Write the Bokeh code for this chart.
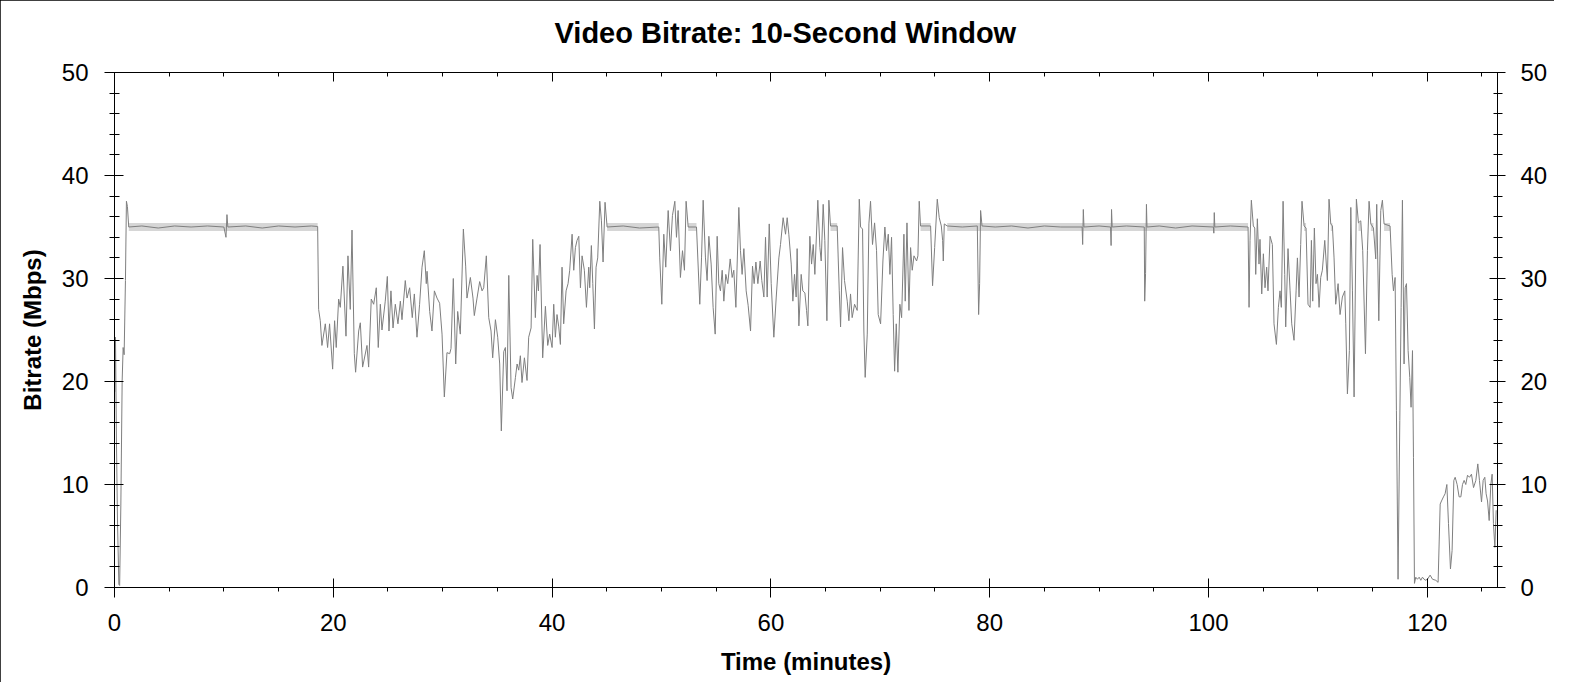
from bokeh.plotting import figure
from bokeh.models import LinearAxis, SingleIntervalTicker, Range1d, CustomJSTickFormatter
from bokeh.embed import file_html
from bokeh.resources import INLINE

# ---- data ----
time_min = [
    0.03, 0.09, 0.18, 0.28, 0.40, 0.47, 0.58, 0.70, 0.79, 0.88, 1.00, 1.09, 1.18, 1.30,
    2.5, 4.0, 5.5, 7.0, 8.5, 10.0, 10.19, 10.28, 10.36, 12.0, 13.5, 15.0, 16.5, 18.0, 18.57,
    18.66, 18.81, 18.96, 19.27, 19.48, 19.66, 19.94, 20.12, 20.27, 20.49, 20.64, 20.88,
    21.16, 21.34, 21.55, 21.71, 21.92, 22.04, 22.32, 22.47, 22.68, 23.08, 23.23, 23.47,
    23.69, 23.93, 24.11, 24.30, 24.45, 24.75, 24.94, 25.09, 25.27, 25.46, 25.67, 25.91,
    26.13, 26.28, 26.58, 26.74, 26.98, 27.22, 27.41, 27.65, 27.89, 28.11, 28.32, 28.50,
    28.57, 28.81, 29.02, 29.24, 29.48, 29.72, 29.94, 30.15, 30.39, 30.64, 30.76, 30.97,
    31.19, 31.37, 31.61, 31.89, 32.10, 32.22, 32.53, 32.77, 32.89, 33.14, 33.38, 33.60,
    33.75, 33.99, 34.21, 34.42, 34.57, 34.82, 35.03, 35.21, 35.36, 35.58, 35.73, 35.88,
    36.04, 36.25, 36.40, 36.65, 36.80, 36.95, 37.10, 37.25, 37.47, 37.71, 37.86, 38.08,
    38.23, 38.47, 38.63, 38.75, 38.90, 39.14, 39.39, 39.60, 39.78,
    40.00, 40.15, 40.30, 40.45, 40.61, 40.76, 40.91, 41.06, 41.28, 41.46, 41.61, 41.83,
    41.98, 42.13, 42.28, 42.44, 42.59, 42.74, 42.95, 43.14, 43.35, 43.44, 43.59, 43.72,
    43.87, 44.02, 44.17, 44.36, 44.51, 44.66, 44.84, 45.03, 46.5, 48.0, 49.75,
    49.84, 50.03, 50.21, 50.39, 50.61, 50.82, 51.00, 51.22, 51.37, 51.52, 51.73, 51.92,
    52.10, 52.25, 52.44, 53.20, 53.50, 53.66, 53.81, 54.02, 54.17, 54.33, 54.54, 54.72,
    54.91, 55.09, 55.24, 55.39, 55.55, 55.70, 55.88, 56.06, 56.28, 56.46, 56.61, 56.80,
    57.07, 57.22, 57.37, 57.53, 57.74, 57.92, 58.14, 58.32, 58.47, 58.63, 58.81, 59.02,
    59.17, 59.36, 59.51, 59.66, 59.85, 60.03, 60.27, 60.49, 60.73, 60.88,
    61.12, 61.34, 61.49, 61.64, 61.86, 62.01, 62.16, 62.31, 62.40, 62.56, 62.77, 62.92,
    63.11, 63.26, 63.38, 63.56, 63.72, 63.87, 64.02, 64.29, 64.48, 64.60, 64.78, 64.93,
    65.12, 65.30, 65.45, 66.06, 66.25, 66.37, 66.55, 66.73, 66.98, 67.13, 67.28, 67.43,
    67.65, 67.89, 68.08, 68.20, 68.38, 68.50, 68.62, 68.81, 68.96, 69.11, 69.29, 69.48,
    69.66, 69.81, 70.03, 70.24, 70.42, 70.57, 70.73, 70.88, 71.03, 71.18, 71.31, 71.46,
    71.61, 71.79, 71.95, 72.16, 72.28, 72.44, 72.62, 72.77, 72.92, 73.08, 73.32, 73.44,
    73.56, 73.68, 74.60, 74.78, 74.97, 75.21, 75.39, 75.58, 75.70, 75.76, 75.85, 76.12,
    77.5, 78.87, 78.99, 79.08, 79.17, 79.30,
    80.5, 82.0, 83.5, 85.0, 86.5, 88.45, 88.50, 88.56, 88.62, 90.0, 91.05, 91.10, 91.14,
    91.20, 92.5, 94.13, 94.17, 94.25, 94.33, 94.38, 95.5, 97.0, 98.5, 100.45, 100.49,
    100.53, 100.58, 102.0, 103.62,
    103.71, 103.80, 103.92, 104.10, 104.23, 104.32, 104.47, 104.62, 104.71, 104.87,
    105.02, 105.17, 105.32, 105.44, 105.63, 105.84, 105.99, 106.21, 106.39, 106.54,
    106.66, 106.82, 106.97, 107.06, 107.27, 107.46, 107.61, 107.82, 108.01, 108.13,
    108.28, 108.43, 108.55, 108.74, 108.92, 109.10, 109.29, 109.41, 109.53, 109.68,
    109.83, 109.96, 110.11, 110.26, 110.41, 110.63, 110.87, 111.02, 111.18, 111.33,
    111.48, 111.63, 111.85, 112.03, 112.24, 112.46, 112.55, 112.70, 112.88, 113.01,
    113.16, 113.31, 113.52, 113.71, 113.92, 114.10, 114.35, 114.53, 114.68, 114.84,
    115.08, 115.29, 115.38, 115.57, 115.75, 115.90, 116.05, 116.60, 116.79, 116.91,
    117.06, 117.18, 117.33, 117.49, 117.61, 117.73, 117.88, 117.98, 118.10, 118.25,
    118.40, 118.52, 118.65, 118.74, 118.83, 118.95, 119.10, 119.26, 119.41, 119.56,
    119.80, 120.02, 120.26, 120.48, 120.78, 120.99, 121.18, 121.30, 121.48, 121.63,
    121.79, 121.94, 122.12, 122.27, 122.43, 122.55, 122.73, 122.91, 123.07, 123.22,
    123.37, 123.52, 123.68, 123.86, 124.04, 124.23, 124.44, 124.62, 124.77, 124.96,
    125.11, 125.26, 125.38, 125.51, 125.66, 125.81, 125.93, 126.05, 126.18, 126.30,
]

bitrate_mbps = [
    19.0, 24.3, 14.0, 6.0, 0.3, 0.2, 8.0, 20.1, 23.3, 22.6, 29.8, 37.5, 37.0, 35.0,
    35.1, 34.9, 35.1, 35.0, 35.1, 35.0, 34.0, 36.2, 35.0, 35.1, 34.9, 35.1, 35.0, 35.1, 35.05,
    27.0, 25.9, 23.5, 25.6, 23.3, 25.6, 21.2, 25.9, 23.3, 28.0, 27.2, 31.2,
    24.4, 32.2, 27.0, 34.7, 22.7, 20.9, 24.9, 25.7, 21.4, 23.5, 21.4, 28.0,
    27.5, 29.1, 23.3, 27.5, 25.0, 27.8, 30.2, 24.9, 28.8, 25.2, 27.5, 25.6,
    27.8, 26.0, 29.8, 28.1, 29.1, 26.2, 28.5, 24.3, 27.5, 31.1, 32.7, 29.5,
    30.7, 26.8, 24.9, 28.8, 28.1, 27.6, 24.6, 18.5, 22.8, 22.7, 23.2, 30.0,
    21.7, 26.8, 24.6, 34.8, 31.2, 28.1, 30.1, 28.1, 26.4, 28.1, 29.7, 28.8,
    29.1, 32.2, 26.2, 24.9, 22.3, 26.0, 24.3, 21.7, 15.2, 22.9, 23.3, 19.1,
    30.3, 19.4, 18.3, 20.4, 21.7, 21.1, 22.5, 19.9, 22.3, 20.1, 24.3, 25.2,
    33.8, 26.2, 30.3, 28.8, 33.3, 22.3, 27.3, 23.5, 24.6,
    23.3, 27.5, 24.3, 26.5, 25.3, 23.6, 31.1, 25.6, 28.8, 29.5, 30.8, 34.3,
    30.8, 33.0, 33.7, 34.1, 29.1, 32.2, 30.8, 27.2, 31.1, 29.1, 33.2, 29.5,
    25.1, 31.1, 32.0, 37.5, 35.6, 31.6, 37.4, 35.0, 35.1, 34.9, 35.0,
    32.0, 27.5, 34.3, 31.1, 36.6, 32.7, 36.1, 37.5, 34.0, 36.6, 30.1, 32.7,
    30.8, 37.5, 35.0, 35.0, 27.5, 32.0, 37.6, 32.0, 29.8, 34.1, 31.4, 27.2,
    24.6, 34.1, 29.5, 28.8, 30.8, 27.8, 30.4, 29.5, 31.9, 30.1, 30.8, 27.2,
    36.9, 32.7, 30.4, 32.9, 28.8, 27.4, 24.9, 31.2, 29.5, 31.6, 29.5, 31.7,
    29.8, 28.2, 34.0, 28.2, 35.3, 29.5, 24.3, 28.2, 32.0, 33.3,
    35.9, 34.3, 35.9, 34.3, 31.4, 27.8, 30.4, 28.2, 32.9, 25.4, 30.4, 28.8,
    28.6, 26.9, 25.4, 34.1, 31.4, 33.3, 30.4, 37.6, 33.0, 31.7, 37.2, 33.7,
    25.9, 37.6, 35.1, 35.1, 28.8, 25.3, 33.0, 29.8, 27.8, 25.9, 28.5, 26.2,
    27.5, 26.9, 37.7, 35.0, 34.8, 24.9, 20.4, 24.6, 35.3, 37.5, 33.3, 35.4,
    32.7, 26.5, 25.6, 31.7, 35.0, 32.7, 34.3, 30.4, 34.0, 26.5, 21.0, 25.6,
    20.9, 27.5, 26.2, 34.3, 27.8, 35.4, 26.9, 33.0, 30.8, 32.2, 31.7, 32.2,
    37.5, 35.1, 35.1, 29.3, 33.0, 37.7, 35.9, 35.1, 33.7, 31.7, 35.3, 35.1,
    35.0, 35.1, 26.5, 29.5, 36.6, 35.1,
    35.0, 35.1, 34.9, 35.1, 35.0, 35.0, 33.3, 36.7, 35.0, 35.1, 35.0, 33.2, 36.7,
    35.0, 35.1, 35.0, 27.8, 30.5, 37.2, 35.0, 35.1, 34.9, 35.1, 35.0, 34.4,
    36.4, 35.0, 35.1, 35.0,
    27.2, 33.7, 37.6, 35.1, 34.9, 30.4, 35.8, 31.4, 33.8, 28.5,
    32.4, 29.1, 31.1, 28.8, 34.1, 33.3, 25.6, 23.6, 27.2, 28.8,
    27.2, 37.5, 30.4, 25.3, 32.9, 28.8, 25.6, 24.0, 28.8, 32.0,
    28.2, 33.3, 37.5, 35.1, 34.9, 27.5, 27.2, 33.7, 27.8, 34.9,
    29.5, 30.4, 27.2, 30.1, 30.8, 33.7, 29.8, 37.7, 35.3, 35.1,
    32.0, 27.5, 29.5, 26.5, 28.2, 28.8, 25.6, 18.8, 23.0, 36.9,
    28.8, 18.5, 37.7, 35.4, 35.6, 32.7, 22.7, 32.7, 37.5, 35.3,
    34.9, 31.9, 37.2, 25.9, 36.6, 37.6, 35.3, 35.1, 30.4, 28.8,
    30.1, 17.2, 0.8, 16.2, 27.2, 37.6, 21.7, 29.1, 29.5, 23.0,
    20.4, 17.5, 23.0, 12.6, 0.4, 1.0, 0.8, 1.0, 0.7, 1.0,
    0.7, 0.8, 1.2, 0.8, 0.7, 0.5, 8.1, 8.4, 8.8, 9.1,
    10.0, 6.2, 1.8, 3.6, 10.4, 10.7, 10.0, 8.8, 8.8, 10.0,
    10.4, 10.0, 10.9, 10.7, 11.0, 9.7, 10.4, 12.0, 10.4, 8.3,
    10.4, 10.7, 9.1, 8.4, 6.5, 10.0, 11.0, 6.2, 3.9, 7.5,
]

# light-grey band of the raw rate around the capped level
band_start = [1.30, 45.03, 52.44, 65.45, 73.68, 76.12, 108.74, 111.18, 113.71, 114.84, 116.05]
band_end = [18.57, 49.75, 53.20, 66.06, 74.60, 103.62, 108.92, 111.33, 113.92, 115.08, 116.60]
band_low = [34.6] * len(band_start)
band_high = [35.4] * len(band_start)

title_text = "Video Bitrate: 10-Second Window"
x_ticks_interval = 20
y_ticks_interval = 10

FONT = "Liberation Sans"

p = figure(
    width=1554, height=682,
    output_backend="svg", toolbar_location=None,
    x_range=Range1d(0, 126.42), y_range=Range1d(0, 50),
    x_axis_location=None, y_axis_location=None,
    title=title_text,
)
p.min_border_left = 114
p.min_border_right = 57
p.min_border_top = 72
p.min_border_bottom = 95
p.outline_line_color = None
p.background_fill_color = "white"
p.border_fill_color = "white"
p.grid.visible = False

p.title.align = "left"
p.title.offset = 440
p.title.text_font = FONT
p.title.text_font_size = "29px"
p.title.text_font_style = "bold"
p.title.text_color = "black"
p.title.standoff = 23

p.styles = {"outline": "1px solid #000000", "outline-offset": "-1px"}


def make_axis(interval, minor, tin, tout, min_in, min_out, labels=True, label=None):
    ax = LinearAxis(ticker=SingleIntervalTicker(interval=interval, num_minor_ticks=minor))
    ax.axis_line_color = "black"
    ax.major_tick_line_color = "black"
    ax.minor_tick_line_color = "black"
    ax.major_tick_in = tin
    ax.major_tick_out = tout
    ax.minor_tick_in = min_in
    ax.minor_tick_out = min_out
    ax.major_label_text_font = FONT
    ax.major_label_text_font_size = "24px"
    ax.major_label_text_color = "black"
    if not labels:
        ax.formatter = CustomJSTickFormatter(code="return ''")
        ax.major_label_standoff = 0
    if label:
        ax.axis_label = label
        ax.axis_label_text_font = FONT
        ax.axis_label_text_font_size = "24px"
        ax.axis_label_text_font_style = "bold"
        ax.axis_label_text_color = "black"
    return ax


left = make_axis(y_ticks_interval, 5, 9, 10, 5, 5, label="Bitrate (Mbps)")
left.major_label_standoff = 16
left.axis_label_standoff = 13
right = make_axis(y_ticks_interval, 5, 8, 8, 4, 5)
right.major_label_standoff = 15
bottom = make_axis(x_ticks_interval, 4, 9, 10, 0, 4, label="Time (minutes)")
bottom.major_label_standoff = 16
bottom.axis_label_standoff = 14
top = make_axis(x_ticks_interval, 4, 9, 0, 4, 0, labels=False)

# invisible spacer between the top axis and the title
spacer = make_axis(x_ticks_interval, 0, 0, 12, 0, 0, labels=False)
spacer.axis_line_color = None
spacer.major_tick_line_color = None
spacer.minor_tick_line_color = None

p.add_layout(left, "left")
p.add_layout(right, "right")
p.add_layout(bottom, "below")
p.add_layout(top, "above")
p.add_layout(spacer, "above")

p.quad(left=band_start, right=band_end, bottom=band_low, top=band_high,
       fill_color="#d6d6d6", line_color=None)
p.line(time_min, bitrate_mbps, line_color="#7f7f7f", line_width=1)

open("out.html", "w").write(file_html(p, INLINE))
